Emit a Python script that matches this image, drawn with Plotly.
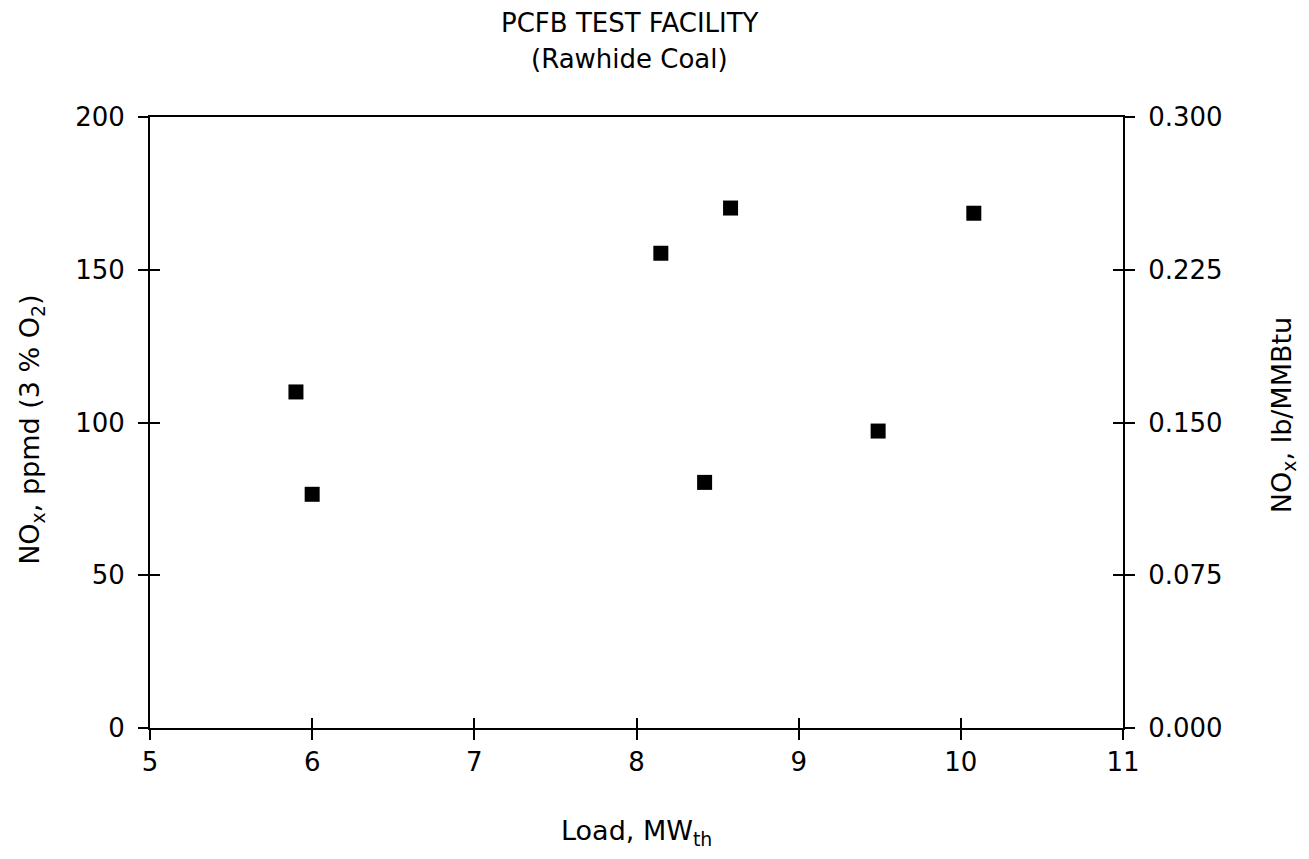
import plotly.graph_objects as go

load_mw = [5.90, 6.00, 8.15, 8.58, 8.42, 9.49, 10.08]
nox_ppmd = [110.0, 76.5, 155.4, 170.2, 80.4, 97.2, 168.5]

x_ticks = [5, 6, 7, 8, 9, 10, 11]
y_ticks = [0, 50, 100, 150, 200]
y2_ticks = [0.0, 0.075, 0.150, 0.225, 0.300]

FONT = "DejaVu Sans"
fs_tick = 26
fs_title = 26
fs_axis = 27

fig = go.Figure()
fig.add_trace(go.Scatter(
    x=load_mw, y=nox_ppmd, mode="markers",
    marker=dict(symbol="square", size=15, color="black"),
    showlegend=False, hoverinfo="x+y"))
fig.add_trace(go.Scatter(x=[None], y=[None], yaxis="y2", xaxis="x", showlegend=False))
fig.add_trace(go.Scatter(x=[None], y=[None], xaxis="x2", yaxis="y3", showlegend=False))
fig.add_trace(go.Scatter(x=[None], y=[None], xaxis="x", yaxis="y4", showlegend=False))

line_common = dict(showgrid=False, zeroline=False, linecolor="black", linewidth=2,
                   tickcolor="black", tickwidth=2, ticklen=10)
axis_common = dict(line_common, tickfont=dict(family=FONT, size=fs_tick, color="black"))

fig.update_layout(
    width=1293, height=843,
    margin=dict(l=142, r=178, t=109, b=123),
    paper_bgcolor="white", plot_bgcolor="white",
    font=dict(family=FONT, size=fs_tick, color="black"),
    xaxis=dict(range=[5, 11], tickvals=x_ticks, ticks="outside", showline=True, mirror=True, **axis_common),
    yaxis=dict(range=[0, 200], tickvals=y_ticks, ticks="outside", showline=True, mirror=True,
               ticklabelstandoff=8, **axis_common),
    yaxis2=dict(range=[0, 0.3], tickvals=y2_ticks, tickformat=".3f", overlaying="y", side="right",
                ticks="outside", showline=True, ticklabelstandoff=8, **axis_common),
    xaxis2=dict(range=[5, 11], tickvals=x_ticks, ticks="inside", showticklabels=False, overlaying="x",
                showline=False, **line_common),
    yaxis3=dict(range=[0, 200], tickvals=y_ticks, ticks="inside", showticklabels=False, overlaying="y",
                showline=False, **line_common),
    yaxis4=dict(range=[0, 0.3], tickvals=y2_ticks, ticks="inside", showticklabels=False,
                overlaying="y", side="right", showline=False, **line_common),
)

fig.add_annotation(text="PCFB TEST FACILITY", xref="paper", yref="paper", x=0.493, y=1.0,
                   yanchor="middle", yshift=94, showarrow=False, font=dict(family=FONT, size=fs_title))
fig.add_annotation(text="(Rawhide Coal)", xref="paper", yref="paper", x=0.493, y=1.0,
                   yanchor="middle", yshift=58, showarrow=False, font=dict(family=FONT, size=fs_title))
fig.add_annotation(text="Load, MW<sub>th</sub>", xref="paper", yref="paper", x=0.5, y=0,
                   yanchor="middle", yshift=-104, showarrow=False, font=dict(family=FONT, size=fs_axis))
fig.add_annotation(text="NO<sub>x</sub>, ppmd (3 % O<sub>2</sub>)", xref="paper", yref="paper",
                   x=0, xanchor="center", xshift=-118, y=0.488, textangle=-90, showarrow=False,
                   font=dict(family=FONT, size=fs_axis))
fig.add_annotation(text="NO<sub>x</sub>, lb/MMBtu", xref="paper", yref="paper",
                   x=1, xanchor="center", xshift=160, y=0.512, textangle=-90, showarrow=False,
                   font=dict(family=FONT, size=fs_axis))

fig.write_html("out.html")
